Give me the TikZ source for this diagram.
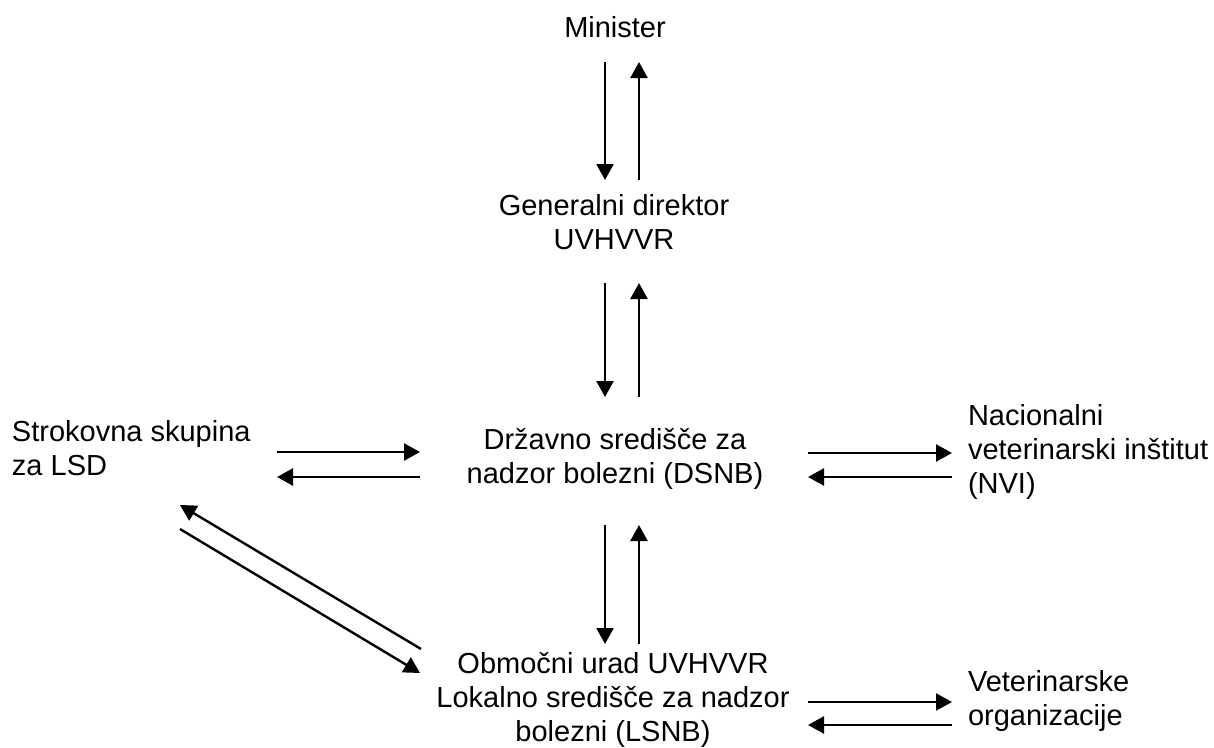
\documentclass[tikz,border=0pt]{standalone}
\usepackage{fontspec}
\setmainfont{Liberation Sans}
\usetikzlibrary{arrows.meta}
\begin{document}
\begin{tikzpicture}[x=1pt,y=-1pt,
  lbl/.style={inner sep=0pt,outer sep=0pt,anchor=base,font=\fontsize{29}{33.7}\selectfont},
  lblc/.style={lbl,align=center},
  lbll/.style={lbl,align=left,anchor=base west},
  arr/.style={line width=2.4pt,-{Triangle[length=16pt,width=17pt]}}]
\useasboundingbox (0,0) rectangle (1214,747);
% anchor base = baseline of the last line
\node[lblc] (min) at (615,37) {Minister};
\node[lblc] (gd) at (614,249) {Generalni direktor\\UVHVVR};
\node[lblc] (dsnb) at (615,483) {Državno središče za\\nadzor bolezni (DSNB)};
\node[lbll] (sk) at (12,475) {Strokovna skupina\\za LSD};
\node[lbll] (nvi) at (968,493) {Nacionalni\\veterinarski inštitut\\(NVI)};
\node[lblc] (ou) at (613,741) {Območni urad UVHVVR\\Lokalno središče za nadzor\\bolezni (LSNB)};
\node[lbll] (vo) at (968,725) {Veterinarske\\organizacije};
% connector end points
\coordinate (m1) at (605,62);  \coordinate (g1) at (605,180);
\coordinate (g2) at (639,180); \coordinate (m2) at (639,62);
\coordinate (g3) at (605,283); \coordinate (d1) at (605,397);
\coordinate (d2) at (639,397); \coordinate (g4) at (639,283);
\coordinate (d3) at (605,525); \coordinate (o1) at (605,644);
\coordinate (o2) at (639,644); \coordinate (d4) at (639,525);
\coordinate (s1) at (277,452); \coordinate (d5) at (420,452);
\coordinate (d6) at (420,477); \coordinate (s2) at (277,477);
\coordinate (d7) at (808,453); \coordinate (n1) at (952,453);
\coordinate (n2) at (952,477); \coordinate (d8) at (808,477);
\coordinate (o3) at (808,702); \coordinate (v1) at (952,702);
\coordinate (v2) at (952,725); \coordinate (o4) at (808,725);
\coordinate (o5) at (421,649); \coordinate (s3) at (180,505);
\coordinate (s4) at (180,529); \coordinate (o6) at (420,673);
\draw[arr] (m1) -- (g1);
\draw[arr] (g2) -- (m2);
\draw[arr] (g3) -- (d1);
\draw[arr] (d2) -- (g4);
\draw[arr] (d3) -- (o1);
\draw[arr] (o2) -- (d4);
\draw[arr] (s1) -- (d5);
\draw[arr] (d6) -- (s2);
\draw[arr] (d7) -- (n1);
\draw[arr] (n2) -- (d8);
\draw[arr] (o3) -- (v1);
\draw[arr] (v2) -- (o4);
\draw[arr] (o5) -- (s3);
\draw[arr] (s4) -- (o6);
\end{tikzpicture}
\end{document}
